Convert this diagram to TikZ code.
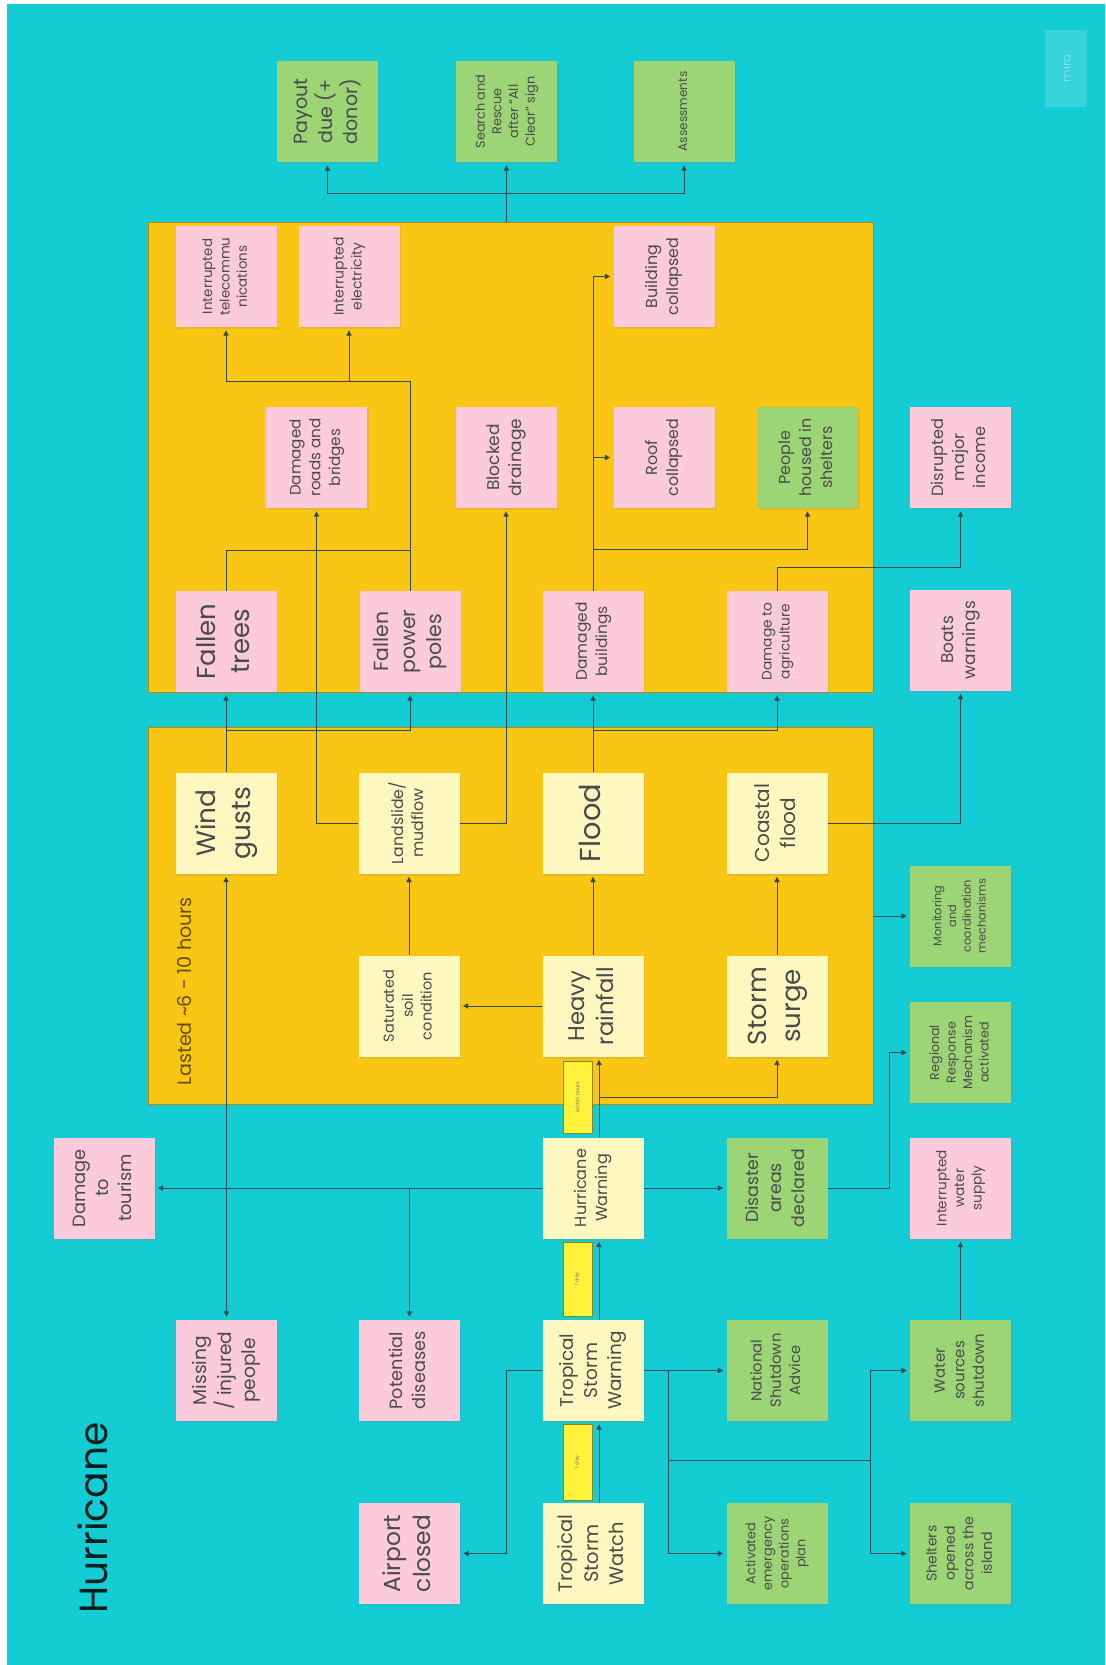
\documentclass[tikz,border=0pt]{standalone}
\usepackage{fontspec}
\setmainfont{Poppins}
\usetikzlibrary{arrows.meta, positioning, shadows, calc}

\definecolor{sea}{HTML}{14CDD4}
\definecolor{zoneyellow}{HTML}{F9C614}
\definecolor{paleyellow}{HTML}{FFF7C0}
\definecolor{notepink}{HTML}{FBCADB}
\definecolor{notegreen}{HTML}{9CD576}
\definecolor{stripyellow}{HTML}{FFF23A}
\definecolor{linkgray}{HTML}{2E4A52}
\definecolor{inkgray}{HTML}{4A4A4A}

% rotated, auto-fitted sticky text
\newcommand{\fitnote}[2][39pt]{\rotatebox{90}{\resizebox{#1}{!}{\begin{tabular}{@{}c@{}}#2\end{tabular}}}}

\begin{document}
\begin{tikzpicture}[
  x=0.5pt, y=-0.5pt,
  >=Triangle,
  %--- sticky notes ---
  note/.style={
    minimum width=50.5pt, minimum height=50.5pt, inner sep=0pt,
    text=inkgray, font=\fontsize{10}{13}\selectfont,
    drop shadow={shadow xshift=0.8pt, shadow yshift=-1.2pt, opacity=0.18}
  },
  ynote/.style={note, fill=paleyellow},
  pnote/.style={note, fill=notepink},
  gnote/.style={note, fill=notegreen},
  %--- frames ---
  zone/.style={
    fill=zoneyellow, draw=zoneyellow!70!black,
    line width=0.5pt, inner sep=0pt
  },
  lagstrip/.style={
    fill=stripyellow, draw=stripyellow!55!black,
    line width=0.4pt, minimum width=14.5pt, inner sep=0pt,
    text=black!55, font=\fontsize{2.5}{3}\selectfont
  },
  %--- connectors ---
  trunk/.style={draw=linkgray, line width=0.5pt},
  link/.style={
    trunk, -{Triangle[length=2.6pt, width=2.6pt]}, shorten >=1.5pt
  }
]

%------------------------------------------------------------------
%  Canvas
%------------------------------------------------------------------
\useasboundingbox (0,0) rectangle (1105,1665);
\fill[white] (0,0) rectangle (1105,1665);
\fill[sea] (7,4) rectangle (1105,1665);

\node[fill=white, fill opacity=0.15, text opacity=0.35, text=white,
      minimum width=21pt, minimum height=38.5pt, inner sep=0pt,
      font=\fontsize{6}{7}\selectfont] (miro) at (1066,68.5)
  {\rotatebox{90}{miro}};

\node[text=black!85!sea] (title) at (92.5,1518)
  {\rotatebox{90}{\resizebox{95.5pt}{!}{Hurricane}}};

%------------------------------------------------------------------
%  Zones
%------------------------------------------------------------------
\node[zone, minimum width=362.25pt, minimum height=235pt]   (impact) at (510.75,457) {};
\node[zone, minimum width=362.25pt, minimum height=188.5pt] (hazard) at (510.75,915.5) {};

\node[text=black!60!zoneyellow] (lasted) at (184.5,991)
  {\rotatebox{90}{\resizebox{94pt}{!}{Lasted \textasciitilde6 - 10 hours}}};

%------------------------------------------------------------------
%  Lag strips between warnings
%------------------------------------------------------------------
\node[lagstrip, minimum height=36pt] (lag1) at (577.5,1097) {\rotatebox{90}{within hours}};
\node[lagstrip, minimum height=37pt] (lag2) at (577.5,1279) {\rotatebox{90}{1 day}};
\node[lagstrip, minimum height=38pt] (lag3) at (577.5,1462) {\rotatebox{90}{1 day}};

%------------------------------------------------------------------
%  Response (top row)
%------------------------------------------------------------------
\node[gnote] (payout) at (327.5,111.5) {\fitnote[33pt]{Payout\\due (+\\donor)}};
\node[gnote] (search) at (506.5,111.5) {\fitnote[37pt]{Search and\\Rescue\\after ``All\\Clear'' sign}};
\node[gnote] (assess) at (684,111.5)   {\fitnote[40pt]{Assessments}};

%------------------------------------------------------------------
%  Impacts (upper zone)
%------------------------------------------------------------------
\node[pnote] (telecom)  at (226,276.5)   {\fitnote{Interrupted\\telecommu\\nications}};
\node[pnote] (power)    at (349,276.5)   {\fitnote{Interrupted\\electricity}};
\node[pnote] (collapse) at (664,276.5)   {\fitnote{Building\\collapsed}};
\node[pnote] (roads)    at (316.5,457.5) {\fitnote{Damaged\\roads and\\bridges}};
\node[pnote] (drain)    at (506,457.5)   {\fitnote{Blocked\\drainage}};
\node[pnote] (roof)     at (664,457.5)   {\fitnote{Roof\\collapsed}};
\node[gnote] (housed)   at (807.5,457.5) {\fitnote{People\\housed in\\shelters}};
\node[pnote] (trees)    at (226,641.5)   {\fitnote[38pt]{Fallen\\trees}};
\node[pnote] (poles)    at (410,641.5)   {\fitnote[32pt]{Fallen\\power\\poles}};
\node[pnote] (dbuild)   at (593,641.5)   {\fitnote{Damaged\\buildings}};
\node[pnote] (agri)     at (777,641.5)   {\fitnote{Damage to\\agriculture}};

%------------------------------------------------------------------
%  Right column
%------------------------------------------------------------------
\node[pnote] (income)   at (960.5,457.5)  {\fitnote{Disrupted\\major\\income}};
\node[pnote] (boats)    at (960.5,640)    {\fitnote{Boats\\warnings}};
\node[gnote] (monitor)  at (960.5,916)    {\fitnote[37pt]{Monitoring\\and\\coordination\\mechanisms}};
\node[gnote] (regional) at (960.5,1052.5) {\fitnote[37pt]{Regional\\Response\\Mechanism\\activated}};

%------------------------------------------------------------------
%  Hazards (lower zone)
%------------------------------------------------------------------
\node[ynote] (wind)  at (226,823)  {\fitnote[36pt]{Wind\\gusts}};
\node[ynote] (slide) at (409,823)  {\fitnote[41pt]{Landslide/\\mudflow}};
\node[ynote] (flood) at (593,823)  {\fitnote{Flood}};
\node[ynote] (coast) at (777,823)  {\fitnote{Coastal\\flood}};
\node[ynote] (soil)  at (409,1006) {\fitnote[36pt]{Saturated\\soil\\condition}};
\node[ynote] (rain)  at (593,1006) {\fitnote{Heavy\\rainfall}};
\node[ynote] (surge) at (777,1006) {\fitnote{Storm\\surge}};

%------------------------------------------------------------------
%  Warnings and early effects
%------------------------------------------------------------------
\node[pnote] (tourism)  at (104,1188)    {\fitnote{Damage\\to\\tourism}};
\node[ynote] (hwarn)    at (593,1188)    {\fitnote{Hurricane\\Warning}};
\node[gnote] (declared) at (777,1188)    {\fitnote{Disaster\\areas\\declared}};
\node[pnote] (water)    at (960.5,1188)  {\fitnote[38pt]{Interrupted\\water\\supply}};
\node[pnote] (missing)  at (226.5,1370.5) {\fitnote{Missing\\/ injured\\people}};
\node[pnote] (disease)  at (409.5,1370.5) {\fitnote{Potential\\diseases}};
\node[ynote] (tswarn)   at (593,1370.5)  {\fitnote{Tropical\\Storm\\Warning}};
\node[gnote] (shutdown) at (777,1370.5)  {\fitnote[37pt]{National\\Shutdown\\Advice}};
\node[gnote] (sources)  at (960.5,1370.5) {\fitnote[37pt]{Water\\sources\\shutdown}};
\node[pnote] (airport)  at (409.5,1553.5) {\fitnote{Airport\\closed}};
\node[ynote] (tswatch)  at (593,1553.5)  {\fitnote{Tropical\\Storm\\Watch}};
\node[gnote] (eop)      at (777,1553.5)  {\fitnote[37pt]{Activated\\emergency\\operations\\plan}};
\node[gnote] (shelters) at (960.5,1553.5) {\fitnote[37pt]{Shelters\\opened\\across the\\island}};

%------------------------------------------------------------------
%  Junction points
%------------------------------------------------------------------
\coordinate (topfork)     at (506.5,193);
\coordinate (utilfork)    at (410,381);
\coordinate (treejoin)    at (410,550);
\coordinate (windfork)    at (226,730);
\coordinate (floodfork)   at (593,730);
\coordinate (shelterfork) at (593,549);
\coordinate (agribend)    at (777,567);
\coordinate (surgefork)   at (599,1097);
\coordinate (regionbend)  at (889,1188);
\coordinate (airportbend) at (506,1370.5);
\coordinate (tsfork)      at (668,1370.5);
\coordinate (sourcefork)  at (870,1460);

%------------------------------------------------------------------
%  Impacts -> response
%------------------------------------------------------------------
\draw[trunk] (impact.north -| topfork) -- (topfork);
\draw[link] (topfork) -- (search.south);
\draw[link] (topfork) -| (payout.south);
\draw[link] (topfork) -| (assess.south);

%------------------------------------------------------------------
%  Inside the impact zone
%------------------------------------------------------------------
\draw[trunk] (trees.north) |- (treejoin);
\draw[link] (poles.north) -- (utilfork) -| (telecom.south);
\draw[link] (utilfork -| power.south) -- (power.south);

\draw[link] (dbuild.north) |- (collapse.west);
\draw[link] (dbuild.north |- roof.west) -- (roof.west);
\draw[link] (shelterfork) -| (housed.south);

\draw[link] (agri.north) -- (agribend) -| (income.south);

%------------------------------------------------------------------
%  Hazards -> impacts
%------------------------------------------------------------------
\draw[link] (wind.north) -- (trees.south);
\draw[link] (windfork) -| (poles.south);
\draw[link] (slide.west) -| (roads.south);
\draw[link] (slide.east) -| (drain.south);
\draw[link] (flood.north) -- (dbuild.south);
\draw[link] (floodfork) -| (agri.south);
\draw[link] (coast.east) -| (boats.south);
\draw[link] (hazard.east |- monitor.west) -- (monitor.west);

\draw[link] (rain.west) -- (soil.east);
\draw[link] (soil.north) -- (slide.south);
\draw[link] (rain.north) -- (flood.south);
\draw[link] (surge.north) -- (coast.south);

%------------------------------------------------------------------
%  Warning chain
%------------------------------------------------------------------
\draw[link] ([xshift=3pt]tswatch.north) -- ([xshift=3pt]tswarn.south);
\draw[link] ([xshift=3pt]tswarn.north) -- ([xshift=3pt]hwarn.south);
\draw[link] ([xshift=3pt]hwarn.north) -- ([xshift=3pt]rain.south);
\draw[link] (surgefork) -| (surge.south);

\draw[link] (hwarn.west) -- (tourism.east);
\draw[link] (wind.south |- hwarn.west) -- (wind.south);
\draw[link] (missing.north |- hwarn.west) -- (missing.north);
\draw[link] (disease.north |- hwarn.west) -- (disease.north);
\draw[link] (hwarn.east) -- (declared.west);
\draw[link] (declared.east) -- (regionbend) |- (regional.west);

\draw[link] (tswarn.west) -- (airportbend) |- (airport.east);
\draw[link] (tswarn.east) -- (shutdown.west);
\draw[link] (tsfork) |- (eop.west);
\draw[trunk] (tsfork |- sourcefork) -- (sourcefork);
\draw[link] (sourcefork) |- (sources.west);
\draw[link] (sourcefork) |- (shelters.west);
\draw[link] (sources.north) -- (water.south);

\end{tikzpicture}
\end{document}
